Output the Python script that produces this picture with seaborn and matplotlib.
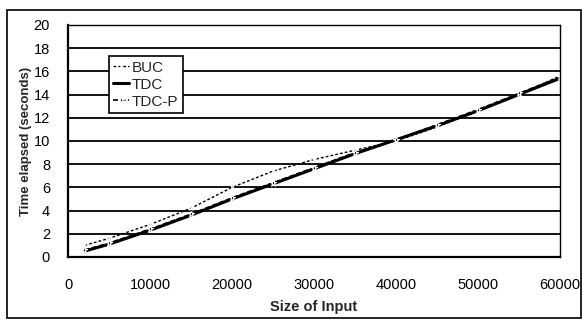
"""Time elapsed vs size of input for BUC, TDC and TDC-P."""

import matplotlib

matplotlib.use("Agg")
import matplotlib.pyplot as plt
import pandas as pd
import seaborn as sns
from matplotlib.patches import Rectangle

# Data
input_size = [2000, 5000, 10000, 15000, 20000, 25000, 30000,
              35000, 40000, 45000, 50000, 55000, 60000]
buc = [1.0, 1.6, 2.8, 4.2, 6.0, 7.4, 8.4, 9.2, 10.0, 11.2, 12.6, 14.0, 15.6]
tdc = [0.5, 1.1, 2.3, 3.6, 5.0, 6.3, 7.6, 8.9, 10.1, 11.3, 12.6, 14.0, 15.4]
tdc_p = [0.6, 1.2, 2.4, 3.7, 5.1, 6.4, 7.7, 9.0, 10.1, 11.4, 12.7, 14.1, 15.5]

df = pd.DataFrame({
    "size": input_size * 3,
    "time": buc + tdc + tdc_p,
    "algo": ["BUC"] * len(buc) + ["TDC"] * len(tdc) + ["TDC-P"] * len(tdc_p),
})

sns.set_theme(style="white")
plt.rcParams["font.family"] = ["Liberation Sans", "DejaVu Sans"]

fig = plt.figure(figsize=(5.82, 3.2), dpi=100)
ax = fig.add_axes([0.117, 0.197, 0.845, 0.725])

styles = {
    "BUC": dict(linestyle=(0, (2, 1.5)), linewidth=1.0, marker="x",
                markersize=3.5, markeredgewidth=0.8),
    "TDC": dict(linestyle="-", linewidth=2.2, marker=None),
    "TDC-P": dict(linestyle=(0, (3, 1.5)), linewidth=1.2, marker="*",
                  markersize=5),
}
for name, kw in styles.items():
    sns.lineplot(data=df[df["algo"] == name], x="size", y="time", ax=ax,
                 color="black", label=name, **kw)

ax.set_xlim(0, 60000)
ax.set_ylim(0, 20)
ax.set_xticks(range(0, 60001, 10000))
ax.set_yticks(range(0, 21, 2))
ax.yaxis.grid(True, color="black", linewidth=1.3)
ax.xaxis.grid(False)

for side in ("top", "right"):
    ax.spines[side].set_linestyle((0, (1, 1)))
    ax.spines[side].set_linewidth(1.0)
    ax.spines[side].set_color("black")
for side in ("left", "bottom"):
    ax.spines[side].set_linewidth(1.6)
    ax.spines[side].set_color("black")

ax.tick_params(axis="both", direction="out", length=3, width=1.0,
               colors="black", labelsize=10.5)
ax.tick_params(axis="x", pad=12)
ax.tick_params(axis="y", pad=10)

ax.set_xlabel("Size of Input", fontsize=10.5, fontweight="bold", labelpad=6)
ax.set_ylabel("Time elapsed (seconds)", fontsize=9.5, fontweight="bold",
              labelpad=1)

leg = ax.legend(loc="upper left", bbox_to_anchor=(0.083, 0.866),
                fontsize=11, frameon=True, fancybox=False, shadow=False,
                handlelength=1.0, handletextpad=0.2, borderpad=0.3,
                labelspacing=0.2, borderaxespad=0)
leg.get_frame().set_edgecolor("black")
leg.get_frame().set_linewidth(1.2)
leg.get_frame().set_alpha(1)

# outer chart border
fig.patches.append(Rectangle((0.012, 0.006), 0.986, 0.962,
                             transform=fig.transFigure, fill=False,
                             edgecolor="black", linewidth=1.2))

fig.savefig("out.png", dpi=100, facecolor="white")
